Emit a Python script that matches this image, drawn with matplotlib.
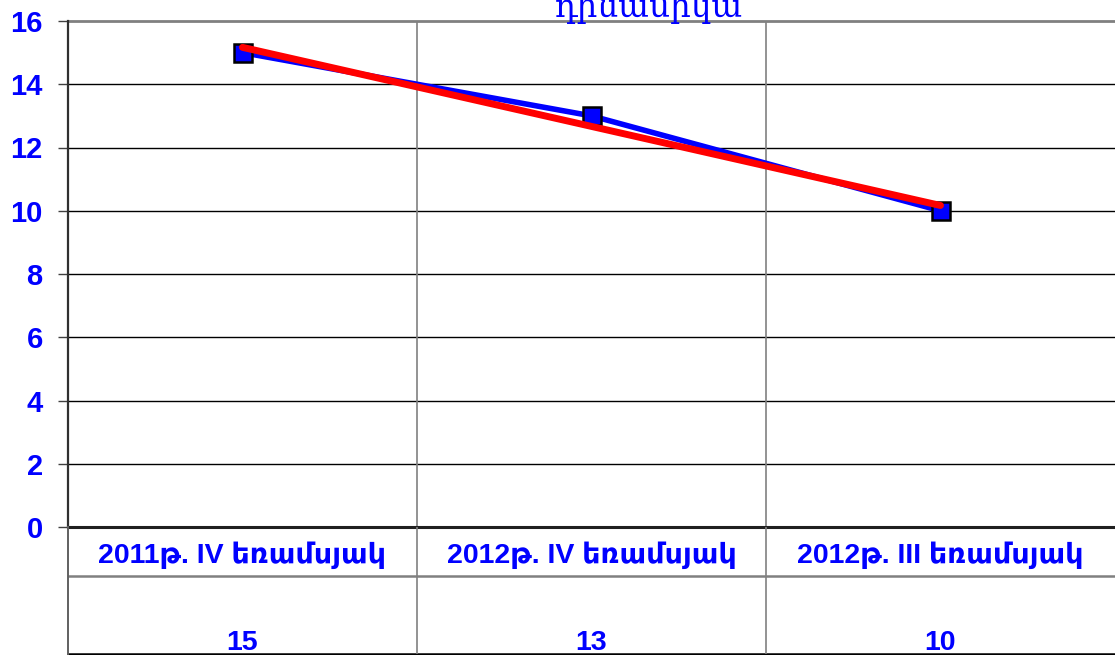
import numpy as np
import matplotlib
matplotlib.use("Agg")
import matplotlib.pyplot as plt

# data
categories = ["2011թ. IV եռամսյակ", "2012թ. IV եռամսյակ", "2012թ. III եռամսյակ"]
values = [15, 13, 10]
title_text = "դինամիկա"
yticks = [0, 2, 4, 6, 8, 10, 12, 14, 16]

blue = "#0000FF"
sans = ["Liberation Sans", "DejaVu Sans"]

W, H = 1115, 655
fig = plt.figure(figsize=(W / 100, H / 100), dpi=100)

# main plot area in pixels
x0, x1 = 68, 1115
y_top, y_zero, y_row, y_bot = 21, 527, 576, 654

ax = fig.add_axes([x0 / W, (H - y_zero) / H, (x1 - x0) / W, (y_zero - y_top) / H])
x = np.arange(len(categories))
ax.set_xlim(-0.5, len(categories) - 0.5)
ax.set_ylim(0, 16)

for yv in yticks[1:-1]:
    ax.axhline(yv, color="black", lw=1, zorder=1)
for b in x[:-1] + 0.5:
    ax.axvline(b, color="#808080", lw=1.2, zorder=1)

ax.plot(x, values, color=blue, lw=4, marker="s", markersize=13,
        markerfacecolor=blue, markeredgecolor="black", markeredgewidth=1.8,
        zorder=3, clip_on=False)

# linear trend line
k, c = np.polyfit(x, values, 1)
ax.plot(x, k * x + c, color="red", lw=5, solid_capstyle="round", zorder=4)

for side in ["right", "bottom", "top", "left"]:
    ax.spines[side].set_visible(False)
ax.axhline(16, color="#808080", lw=2, zorder=2, clip_on=False)
ax.axhline(0, color="#202020", lw=2.2, zorder=2, clip_on=False)
ax.axvline(-0.5, color="#303030", lw=1.6, zorder=2, clip_on=False)

ax.set_xticks([])
ax.set_yticks(yticks)
ax.tick_params(axis="y", length=7.2, width=1, color="#404040", pad=11)
for t in ax.get_yticklabels():
    t.set_fontfamily(sans)
    t.set_fontsize(21)
    t.set_fontweight("bold")
    t.set_color(blue)

# table below the axis
tb = fig.add_axes([x0 / W, (H - y_bot) / H, (x1 - x0) / W, (y_bot - y_zero) / H])
tb.set_xlim(ax.get_xlim())
tb.set_ylim(y_bot, y_zero)
tb.axis("off")
tb.axhline(y_row, color="#808080", lw=1.8)
tb.axhline(y_bot, color="black", lw=1.8, clip_on=False)
tb.axvline(-0.5, color="#606060", lw=1.4, clip_on=False)
for b in x[:-1] + 0.5:
    tb.axvline(b, color="#808080", lw=1.2)
for xi, cat, v in zip(x, categories, values):
    tb.text(xi, 563, cat, ha="center", va="baseline", color=blue,
            fontsize=20.5, fontweight="bold", family=sans)
    tb.text(xi, 630, str(v), ha="center", va="top", color=blue,
            fontsize=20.5, fontweight="bold", family=sans)

fig.text(649 / W, (H - 17) / H, title_text, ha="center", va="baseline",
         color=blue, fontsize=23.5, family=["DejaVu Serif"])

fig.savefig("out.png", dpi=100)
